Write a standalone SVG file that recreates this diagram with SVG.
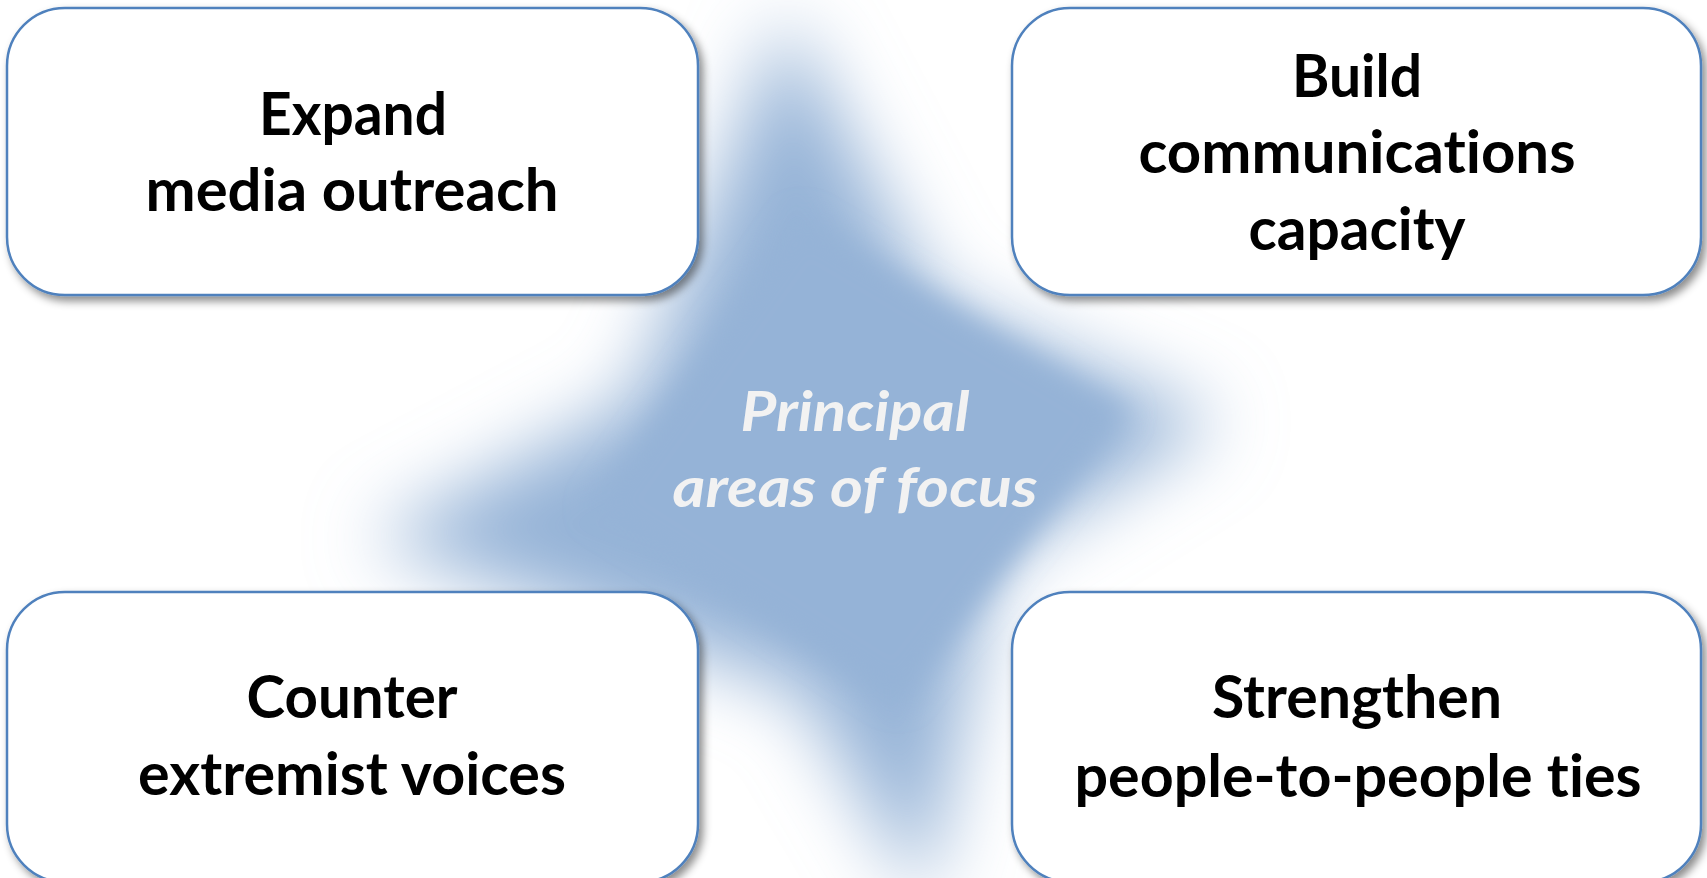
<svg xmlns="http://www.w3.org/2000/svg" width="1707" height="878" viewBox="0 0 1707 878">
  <defs>
    <filter id="blurBig" filterUnits="userSpaceOnUse" x="0" y="-200" width="1707" height="1300">
      <feGaussianBlur stdDeviation="38"/>
    </filter>
    <filter id="blurSmall" filterUnits="userSpaceOnUse" x="0" y="0" width="1707" height="1000">
      <feGaussianBlur stdDeviation="14"/>
    </filter>
    <filter id="shadow" x="-5%" y="-5%" width="115%" height="120%">
      <feDropShadow dx="4" dy="5" stdDeviation="4" flood-color="#000" flood-opacity="0.45"/>
    </filter>
    <style>
      .box { fill: #ffffff; stroke: #4f81bd; stroke-width: 2.5; filter: url(#shadow); }
      .lbl { font-family: Lato, "Open Sans", "Liberation Sans", sans-serif; font-weight: bold; font-size: 60px; fill: #000000; text-anchor: middle; font-variant-ligatures: none; font-feature-settings: "liga" 0, "clig" 0; }
      .ctr { font-family: Lato, "Open Sans", "Liberation Sans", sans-serif; font-weight: bold; font-style: italic; font-size: 56px; fill: #f2f2f2; text-anchor: middle; font-variant-ligatures: none; font-feature-settings: "liga" 0, "clig" 0; }
      .star { fill: #95b3d7; }
    </style>
  </defs>

  <rect width="1707" height="878" fill="#ffffff"/>

  <g id="center">
    <polygon class="star" filter="url(#blurBig)" points="785,15 935,300 1220,420 995,560 925,900 800,690 370,540 635,400"/>
    <polygon class="star" filter="url(#blurSmall)" points="800,215 1130,410 900,705 590,510"/>
    <text class="ctr" x="855" y="431" textLength="229" lengthAdjust="spacingAndGlyphs">Principal</text>
    <text class="ctr" x="855" y="507" textLength="365" lengthAdjust="spacingAndGlyphs">areas of focus</text>
  </g>

  <g id="connectors"></g>

  <g id="node-expand">
    <rect class="box" x="7" y="8" width="691" height="287" rx="58" ry="58"/>
    <text class="lbl" x="353" y="135" textLength="188" lengthAdjust="spacingAndGlyphs">Expand</text>
    <text class="lbl" x="352" y="211" textLength="413" lengthAdjust="spacingAndGlyphs">media outreach</text>
  </g>

  <g id="node-build">
    <rect class="box" x="1012" y="8" width="689" height="287" rx="58" ry="58"/>
    <text class="lbl" x="1357" y="97" textLength="130" lengthAdjust="spacingAndGlyphs">Build</text>
    <text class="lbl" x="1357" y="173" textLength="437" lengthAdjust="spacingAndGlyphs">communications</text>
    <text class="lbl" x="1357" y="250" textLength="217" lengthAdjust="spacingAndGlyphs">capacity</text>
  </g>

  <g id="node-counter">
    <rect class="box" x="7" y="592" width="691" height="290" rx="58" ry="58"/>
    <text class="lbl" x="352" y="718" textLength="211" lengthAdjust="spacingAndGlyphs">Counter</text>
    <text class="lbl" x="352" y="795" textLength="428" lengthAdjust="spacingAndGlyphs">extremist voices</text>
  </g>

  <g id="node-strengthen">
    <rect class="box" x="1012" y="592" width="689" height="290" rx="58" ry="58"/>
    <text class="lbl" x="1357" y="718" textLength="290" lengthAdjust="spacingAndGlyphs">Strengthen</text>
    <text class="lbl" x="1358" y="797" textLength="567" lengthAdjust="spacingAndGlyphs">people-to-people ties</text>
  </g>
</svg>
